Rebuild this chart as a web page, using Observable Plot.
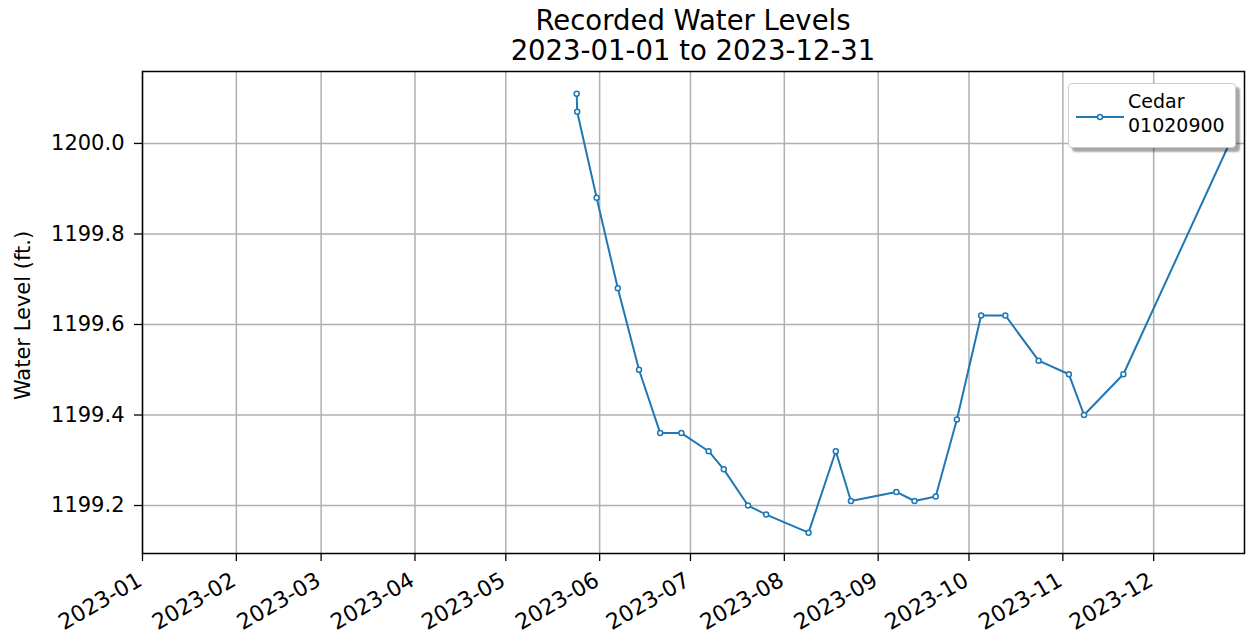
<!DOCTYPE html>
<html>
<head>
<meta charset="utf-8">
<script src="https://cdn.jsdelivr.net/npm/d3@7"></script>
<script src="https://cdn.jsdelivr.net/npm/@observablehq/plot@0.6"></script>
<style>
  html, body { margin: 0; padding: 0; background: #fff; }
  #wrap { position: relative; width: 1247px; height: 638px; font-family: "DejaVu Sans", sans-serif; }
  #title { box-sizing: border-box; height: 62px; padding-top: 5px; margin-left: 142px; width: 1102px;
           text-align: center; font-size: 27.5px; line-height: 30px; color: #000; white-space: nowrap; }
  #legend { position: absolute; left: 1068px; top: 83px; width: 168px; height: 65px; box-sizing: border-box;
            background: #fff; border: 1px solid #cccccc; border-radius: 4px;
            box-shadow: 4px 4px 2px rgba(0,0,0,0.35); }
  #legend .t { position: absolute; left: 59px; font-size: 19px; line-height: 19px; color: #000; white-space: nowrap; }
  #legend svg { position: absolute; left: 6px; top: 26px; }
</style>
</head>
<body>
<div id="wrap">
  <div id="title">Recorded Water Levels<br>2023-01-01 to 2023-12-31</div>
  <div id="chart"></div>
  <div id="legend">
    <svg width="50" height="14"><line x1="1" y1="7" x2="49" y2="7" stroke="#1f77b4" stroke-width="2"/><circle cx="25" cy="7" r="2.5" fill="#fff" stroke="#1f77b4" stroke-width="1.5"/></svg>
    <div class="t" style="top:8px">Cedar</div>
    <div class="t" style="top:32px">01020900</div>
  </div>
</div>
<script>
const dates = [
  "2023-05-24T10:00", "2023-05-24T14:00", "2023-05-31", "2023-06-07", "2023-06-14",
  "2023-06-21", "2023-06-28", "2023-07-07", "2023-07-12", "2023-07-20",
  "2023-07-26", "2023-08-09", "2023-08-18", "2023-08-23", "2023-09-07",
  "2023-09-13", "2023-09-20", "2023-09-27", "2023-10-05", "2023-10-13",
  "2023-10-24", "2023-11-03", "2023-11-08", "2023-11-21", "2023-12-26"
];
const levels = [
  1200.11, 1200.07, 1199.88, 1199.68, 1199.50,
  1199.36, 1199.36, 1199.32, 1199.28, 1199.20,
  1199.18, 1199.14, 1199.32, 1199.21, 1199.23,
  1199.21, 1199.22, 1199.39, 1199.62, 1199.62,
  1199.52, 1199.49, 1199.40, 1199.49, 1200.00
];
const yTicks = [1199.2, 1199.4, 1199.6, 1199.8, 1200.0];
const xTickLabels = ["2023-01", "2023-02", "2023-03", "2023-04", "2023-05", "2023-06",
                     "2023-07", "2023-08", "2023-09", "2023-10", "2023-11", "2023-12"];
const xDomain = ["2023-01-01", "2023-12-31"];
const yDomain = [1199.094, 1200.159];
const seriesName = "Cedar 01020900";

const parse = s => new Date(s.length > 10 ? s + ":00Z" : s.length === 7 ? s + "-01T00:00Z" : s + "T00:00Z");
const data = dates.map((d, i) => ({date: parse(d), level: levels[i]}));
const xTicks = xTickLabels.map(parse);

const color = "#1f77b4";
const chart = Plot.plot({
  width: 1247,
  height: 576,
  marginTop: 9,
  marginBottom: 85,
  marginLeft: 142,
  marginRight: 3,
  style: {fontFamily: "DejaVu Sans, sans-serif", fontSize: "21px", color: "#000", background: "#fff"},
  x: {type: "utc", domain: xDomain.map(parse)},
  y: {domain: yDomain},
  marks: [
    Plot.gridX(xTicks, {stroke: "#b0b0b0", strokeOpacity: 1, strokeWidth: 1.5}),
    Plot.gridY(yTicks, {stroke: "#b0b0b0", strokeOpacity: 1, strokeWidth: 1.5}),
    Plot.axisX(xTicks, {tickFormat: () => "", tickSize: 8, stroke: "#000", strokeWidth: 1.3, label: null}),
    Plot.text(xTicks, {x: d => d, text: (d, i) => xTickLabels[i], frameAnchor: "bottom", rotate: -30,
      textAnchor: "end", lineAnchor: "bottom", dy: 31, dx: 1, fontSize: 22, fill: "#000"}),
    Plot.axisY(yTicks, {tickFormat: d3.format(".1f"), tickSize: 8, tickPadding: 10,
      fontSize: 21, stroke: "#000", strokeWidth: 1.3, label: null}),
    Plot.text(["Water Level (ft.)"], {frameAnchor: "left", dx: -119, dy: 3, rotate: -90, fontSize: 21,
      textAnchor: "middle", lineAnchor: "middle", fill: "#000"}),
    Plot.line(data, {x: "date", y: "level", stroke: color, strokeWidth: 2}),
    Plot.dot(data, {x: "date", y: "level", r: 2.5, fill: "#fff", stroke: color, strokeWidth: 1.5}),
    Plot.frame({stroke: "#000", strokeWidth: 1.5})
  ]
});
document.getElementById("chart").appendChild(chart);
</script>
</body>
</html>
